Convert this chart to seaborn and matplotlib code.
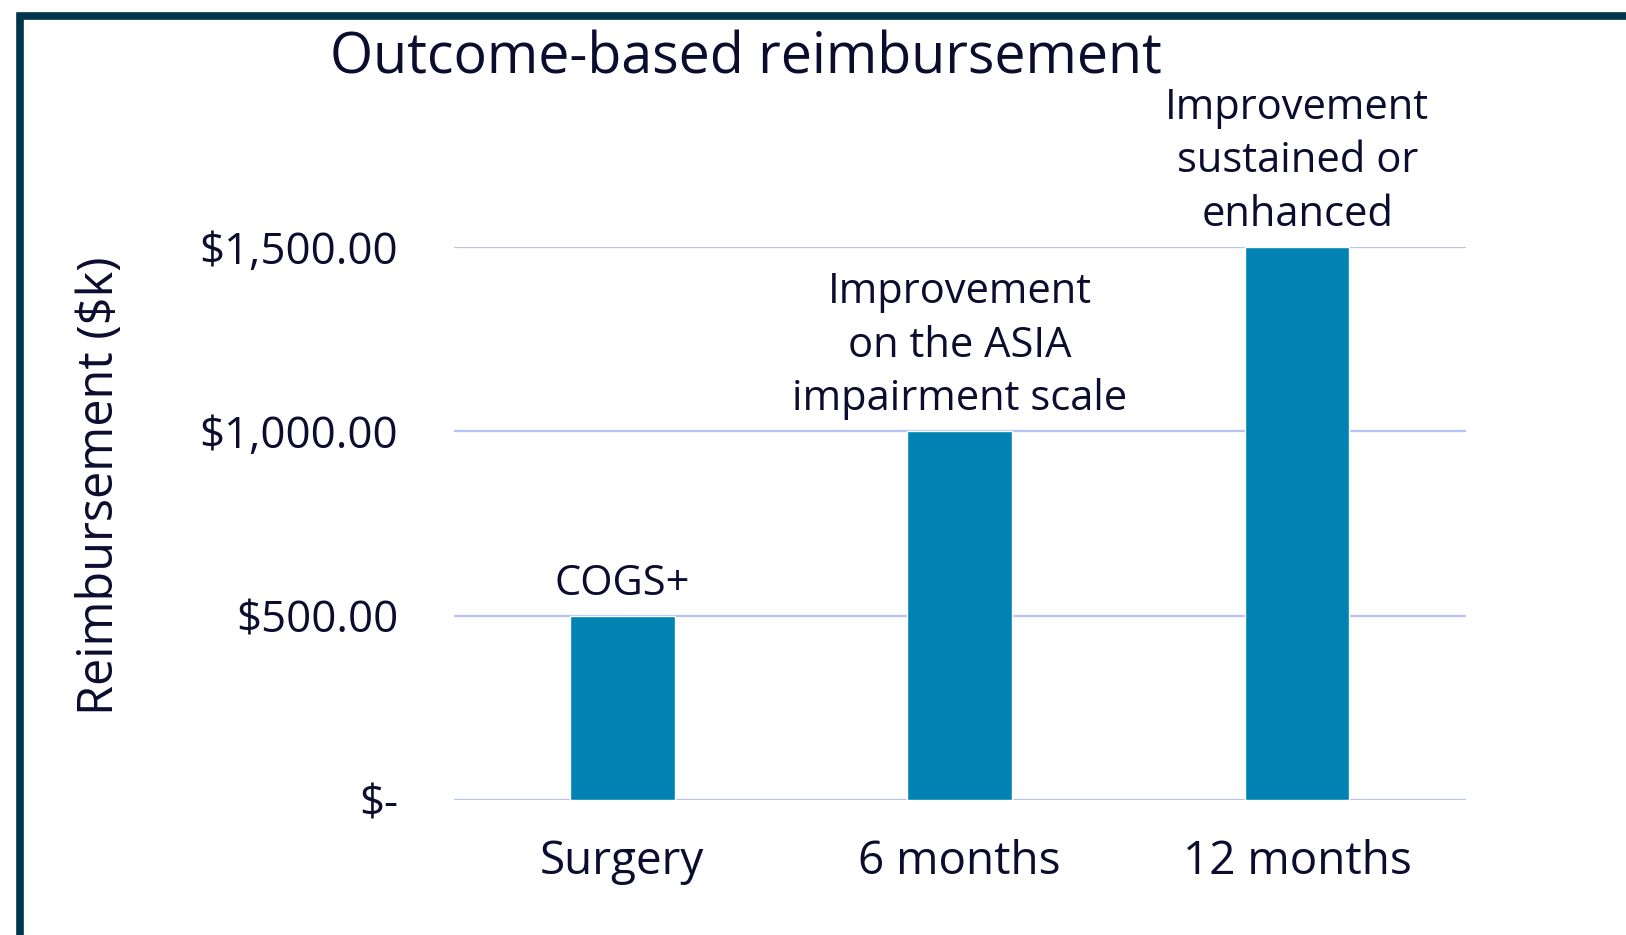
import matplotlib
matplotlib.use("Agg")
import matplotlib.pyplot as plt
from matplotlib.patches import Rectangle
from matplotlib.ticker import FuncFormatter
import pandas as pd
import seaborn as sns

stages = ["Surgery", "6 months", "12 months"]
reimbursement = [500, 1000, 1500]
milestones = ["COGS+", "Improvement\non the ASIA\nimpairment scale", "Improvement\nsustained or\nenhanced"]
y_ticks = [0, 500, 1000, 1500]

TEXT = "#0B0D2E"
BAR = "#0083B3"
GRID = "#B7C3F6"
FRAME = "#00354B"


def money(v, _pos):
    if v == 0:
        return "$-"
    return f"${v:,.2f}"


def main():
    sns.set_style("white")
    plt.rcParams["font.family"] = ["Open Sans", "DejaVu Sans"]

    df = pd.DataFrame({"stage": stages, "value": reimbursement})

    fig = plt.figure(figsize=(16.26, 9.35), dpi=100)
    ax = fig.add_axes([0.279, 0.1444, 0.6225, 0.5914])

    sns.barplot(data=df, x="stage", y="value", ax=ax, color=BAR, width=0.31,
                saturation=1, zorder=3)

    ax.set_xlim(-0.5, 2.5)
    ax.set_ylim(0, 1500)
    ax.set_yticks(y_ticks)
    ax.yaxis.set_major_formatter(FuncFormatter(money))
    ax.grid(axis="y", color=GRID, linewidth=1.6, zorder=0)
    ax.set_axisbelow(True)
    for side in ["top", "right", "left", "bottom"]:
        ax.spines[side].set_visible(False)
    ax.tick_params(axis="both", length=0, colors=TEXT)
    ax.tick_params(axis="y", pad=40, labelsize=31.5)
    ax.tick_params(axis="x", pad=28, labelsize=33)
    ax.set_xlabel("")
    ax.set_ylabel("Reimbursement ($k)", fontsize=35, color=TEXT, va="center")
    ax.yaxis.set_label_coords(-0.349, 0.569)

    for i, (val, label) in enumerate(zip(reimbursement, milestones)):
        ax.annotate(label, xy=(i, val), xytext=(0, 8), textcoords="offset points",
                    ha="center", va="bottom", fontsize=30, color=TEXT,
                    linespacing=1.36, annotation_clip=False)

    fig.text(0.459, 0.937, "Outcome-based reimbursement", ha="center", va="center",
             fontsize=40, color=TEXT)

    fig.patches.append(Rectangle((20 / 1626, -0.1), 1.2, 0.1 + 1 - 16 / 935,
                                 transform=fig.transFigure, fill=False,
                                 edgecolor=FRAME, linewidth=5.5))

    fig.savefig("out.png", dpi=100)
    plt.close(fig)


if __name__ == "__main__":
    main()
